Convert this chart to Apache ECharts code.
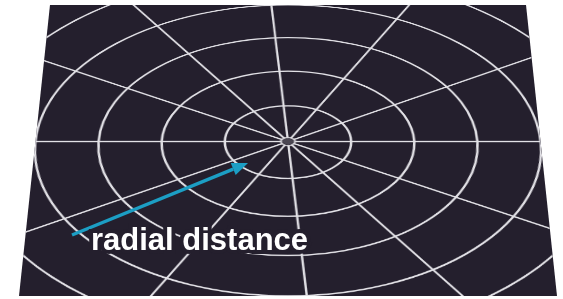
<!DOCTYPE html>
<html lang="en">

<head>
    <meta charset="UTF-8">
    <title>radial distance</title>
    <script src="https://cdn.jsdelivr.net/npm/echarts@6/dist/echarts.min.js"></script>
    <style>
        body {
            margin: 0;
            padding: 0;
            background: #fff;
            overflow: hidden;
        }
        #wrap {
            position: relative;
            width: 563px;
            height: 299px;
            overflow: hidden;
        }
        /* the square plane, tilted back in 3D */
        #plane {
            position: absolute;
            left: 19px;
            top: -242px;
            width: 538px;
            height: 538px;
            background: #241f2d;
            transform-origin: 50% 100%;
            transform: perspective(3270px) rotateX(52.3deg);
        }
        #overlay {
            position: absolute;
            left: 0;
            top: 0;
            width: 563px;
            height: 299px;
        }
    </style>
</head>

<body>
    <div id="wrap">
        <div id="plane"></div>
        <div id="overlay"></div>
    </div>
    <script>
        // rings sit on every radius tick, spokes at these angles (deg, ccw from right)
        var ringMax = 6;
        var spokeAngles = [0, 31, 63, 94, 123, 150, 180, 211, 243, 274, 303, 330];
        var labelText = "radial distance";

        var gridColor = "#e2e1e6";
        var planeBg = "#241f2d";

        var plane = echarts.init(document.getElementById("plane"));

        var spokes = spokeAngles.map(function (a) {
            return {
                type: "line",
                coordinateSystem: "polar",
                data: [[0, a], [ringMax, a]],
                symbol: "none",
                silent: true,
                lineStyle: { color: gridColor, width: 2.4 }
            };
        });

        // little ring at the centre
        spokes.push({
            type: "scatter",
            coordinateSystem: "polar",
            data: [[0, 0]],
            symbol: "circle",
            symbolSize: 15,
            silent: true,
            z: 10,
            itemStyle: { color: planeBg, borderColor: gridColor, borderWidth: 2.4 }
        });

        plane.setOption({
            animation: false,
            polar: {
                center: ["50%", "50%"],
                radius: 67.25 * ringMax
            },
            angleAxis: {
                type: "value",
                min: 0,
                max: 360,
                startAngle: 0,
                clockwise: false,
                axisLine: { show: false },
                axisTick: { show: false },
                axisLabel: { show: false },
                splitLine: { show: false }
            },
            radiusAxis: {
                type: "value",
                min: 0,
                max: ringMax,
                interval: 1,
                axisLine: { show: false },
                axisTick: { show: false },
                axisLabel: { show: false },
                splitLine: {
                    show: true,
                    lineStyle: { color: gridColor, width: 2.6 }
                }
            },
            series: spokes
        });

        // arrow + label drawn flat on top
        var overlay = echarts.init(document.getElementById("overlay"));
        var arrowFrom = [72, 235];
        var arrowTip = [248, 163];
        var headLen = 16, headHalf = 6.5;
        var dx = arrowTip[0] - arrowFrom[0], dy = arrowTip[1] - arrowFrom[1];
        var len = Math.sqrt(dx * dx + dy * dy);
        var ux = dx / len, uy = dy / len;
        var bx = arrowTip[0] - ux * headLen, by = arrowTip[1] - uy * headLen;
        var arrowColor = "#1c9ec4";

        overlay.setOption({
            animation: false,
            graphic: [
                {
                    type: "line",
                    shape: { x1: arrowFrom[0], y1: arrowFrom[1], x2: bx, y2: by },
                    style: { stroke: arrowColor, lineWidth: 3.4 }
                },
                {
                    type: "polygon",
                    shape: {
                        points: [
                            arrowTip,
                            [bx - uy * headHalf, by + ux * headHalf],
                            [bx + uy * headHalf, by - ux * headHalf]
                        ]
                    },
                    style: { fill: arrowColor }
                },
                {
                    type: "text",
                    x: 91,
                    y: 226,
                    style: {
                        text: labelText,
                        fill: "#ffffff",
                        font: "bold 31px 'Liberation Sans', Arial, sans-serif",
                        verticalAlign: "top",
                        stroke: planeBg,
                        lineWidth: 8
                    }
                }
            ]
        });
    </script>
</body>

</html>
